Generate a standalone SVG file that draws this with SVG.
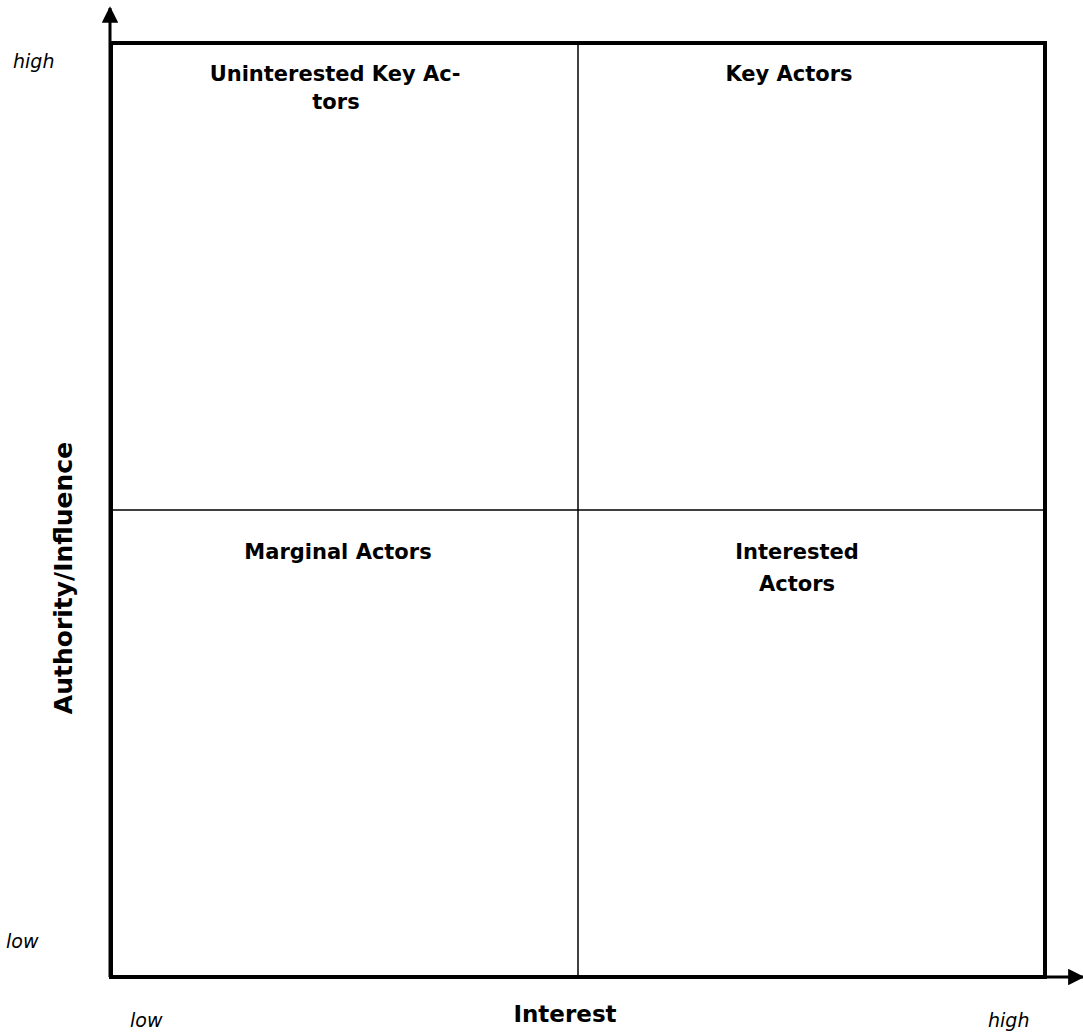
<svg xmlns="http://www.w3.org/2000/svg" width="1083" height="1035" viewBox="0 0 1083 1035">
  <style>
    .q { font-family: "DejaVu Sans", "Liberation Sans", sans-serif; font-weight: bold; font-size: 21px; fill: #000; text-anchor: middle; }
    .ax { font-family: "DejaVu Sans", "Liberation Sans", sans-serif; font-weight: bold; fill: #000; text-anchor: middle; }
    .lv { font-family: "DejaVu Sans", "Liberation Sans", sans-serif; font-style: italic; font-size: 19px; fill: #000; }
    .frame { fill: none; stroke: #000; stroke-width: 4; }
    .div { stroke: #000; stroke-width: 1.5; fill: none; }
    .axis { stroke: #000; stroke-width: 3; fill: none; }
  </style>
  <defs>
    <marker id="arr" viewBox="0 0 10 10" refX="9" refY="5" markerWidth="5.5" markerHeight="5.5" orient="auto" markerUnits="strokeWidth">
      <path d="M0,0 L10,5 L0,10 Z" fill="#000"/>
    </marker>
  </defs>
  <rect width="1083" height="1035" fill="#fff"/>
  <g id="grid">
    <rect class="frame" x="111" y="43" width="934" height="934"/>
    <line class="div" x1="578" y1="43" x2="578" y2="977"/>
    <line class="div" x1="111" y1="510" x2="1045" y2="510"/>
  </g>
  <g id="connectors">
    <line class="axis" x1="110" y1="977" x2="110" y2="8" marker-end="url(#arr)"/>
    <line class="axis" x1="110" y1="977" x2="1083" y2="977" marker-end="url(#arr)"/>
  </g>
  <g id="q-uninterested">
    <text class="q" x="335" y="81">Uninterested Key Ac-</text>
    <text class="q" x="336" y="109">tors</text>
  </g>
  <g id="q-key">
    <text class="q" x="789" y="81">Key Actors</text>
  </g>
  <g id="q-marginal">
    <text class="q" x="338" y="559">Marginal Actors</text>
  </g>
  <g id="q-interested">
    <text class="q" x="797" y="559">Interested</text>
    <text class="q" x="797" y="591">Actors</text>
  </g>
  <g id="labels">
    <text class="ax" x="565" y="1022" font-size="23">Interest</text>
    <text class="ax" transform="translate(72,578) rotate(-90)" font-size="25">Authority/Influence</text>
    <text class="lv" x="13" y="68">high</text>
    <text class="lv" x="6" y="948">low</text>
    <text class="lv" x="130" y="1027">low</text>
    <text class="lv" x="988" y="1027">high</text>
  </g>
</svg>
